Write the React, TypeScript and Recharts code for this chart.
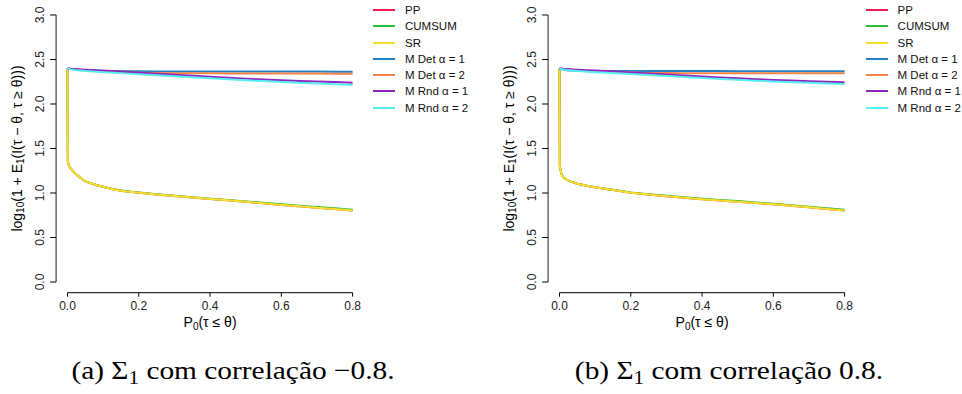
import { LineChart, Line, XAxis, YAxis, ReferenceLine } from "recharts";

// P0(tau <= theta) grid shared by all curves
const probGrid = [0, 0.001, 0.005, 0.01, 0.02, 0.03, 0.05, 0.08, 0.1, 0.13, 0.16, 0.2, 0.25, 0.3, 0.35, 0.4, 0.45, 0.5, 0.55, 0.6, 0.65, 0.7, 0.75, 0.8];

const xTicks = [0, 0.2, 0.4, 0.6, 0.8];
const yTicks = [0, 0.5, 1, 1.5, 2, 2.5, 3];

// (a) correlation -0.8
const aPP = [2.4, 1.35, 1.3, 1.27, 1.225, 1.19, 1.13, 1.09, 1.07, 1.04, 1.02, 1.003, 0.984, 0.966, 0.949, 0.932, 0.918, 0.901, 0.884, 0.866, 0.85, 0.835, 0.819, 0.803];
const aCUSUM = [2.4, 1.35, 1.3, 1.27, 1.225, 1.19, 1.13, 1.09, 1.07, 1.042, 1.022, 1.005, 0.987, 0.969, 0.952, 0.936, 0.922, 0.906, 0.89, 0.873, 0.858, 0.843, 0.828, 0.813];
const aSR = [2.4, 1.35, 1.3, 1.27, 1.225, 1.19, 1.13, 1.09, 1.07, 1.04, 1.02, 1.003, 0.984, 0.966, 0.949, 0.932, 0.918, 0.901, 0.884, 0.866, 0.85, 0.835, 0.819, 0.804];
const aDet1 = [2.4, 2.399, 2.396, 2.393, 2.389, 2.385, 2.38, 2.375, 2.372, 2.37, 2.368, 2.367, 2.366, 2.366, 2.365, 2.365, 2.365, 2.364, 2.364, 2.364, 2.364, 2.364, 2.363, 2.363];
const aDet2 = [2.4, 2.399, 2.396, 2.393, 2.389, 2.385, 2.378, 2.37, 2.365, 2.36, 2.355, 2.35, 2.347, 2.345, 2.344, 2.344, 2.343, 2.343, 2.343, 2.342, 2.342, 2.342, 2.341, 2.341];
const aRnd1 = [2.4, 2.4, 2.399, 2.397, 2.394, 2.391, 2.386, 2.38, 2.375, 2.369, 2.361, 2.351, 2.34, 2.328, 2.316, 2.305, 2.295, 2.285, 2.275, 2.266, 2.259, 2.252, 2.246, 2.24];
const aRnd2 = [2.4, 2.398, 2.394, 2.389, 2.383, 2.378, 2.371, 2.362, 2.356, 2.35, 2.344, 2.335, 2.324, 2.312, 2.3, 2.288, 2.277, 2.267, 2.257, 2.248, 2.239, 2.23, 2.221, 2.213];

// (b) correlation 0.8
const bPP = [2.4, 1.3, 1.22, 1.18, 1.15, 1.13, 1.105, 1.078, 1.064, 1.045, 1.028, 1.004, 0.984, 0.964, 0.947, 0.931, 0.917, 0.903, 0.888, 0.873, 0.856, 0.839, 0.821, 0.803];
const bCUSUM = [2.4, 1.3, 1.22, 1.18, 1.15, 1.13, 1.105, 1.078, 1.065, 1.047, 1.03, 1.007, 0.987, 0.968, 0.951, 0.936, 0.922, 0.909, 0.894, 0.879, 0.863, 0.846, 0.829, 0.811];
const bSR = [2.4, 1.3, 1.22, 1.18, 1.15, 1.13, 1.105, 1.078, 1.064, 1.045, 1.028, 1.004, 0.984, 0.964, 0.947, 0.931, 0.917, 0.903, 0.888, 0.873, 0.856, 0.839, 0.821, 0.804];
const bDet1 = [2.4, 2.398, 2.392, 2.386, 2.38, 2.377, 2.373, 2.371, 2.371, 2.37, 2.37, 2.37, 2.37, 2.37, 2.37, 2.37, 2.37, 2.369, 2.369, 2.369, 2.369, 2.369, 2.369, 2.369];
const bDet2 = [2.4, 2.399, 2.396, 2.393, 2.389, 2.385, 2.379, 2.372, 2.368, 2.363, 2.358, 2.353, 2.349, 2.347, 2.346, 2.346, 2.345, 2.345, 2.345, 2.345, 2.345, 2.345, 2.345, 2.345];
const bRnd1 = [2.4, 2.4, 2.399, 2.397, 2.394, 2.391, 2.386, 2.38, 2.376, 2.37, 2.363, 2.353, 2.342, 2.331, 2.32, 2.308, 2.298, 2.288, 2.279, 2.27, 2.263, 2.256, 2.25, 2.245];
const bRnd2 = [2.4, 2.398, 2.394, 2.389, 2.383, 2.378, 2.371, 2.363, 2.358, 2.352, 2.346, 2.337, 2.326, 2.315, 2.304, 2.292, 2.281, 2.271, 2.262, 2.253, 2.245, 2.238, 2.231, 2.225];

const seriesInfo = [
  { key: "pp", name: "PP", color: "#EE1B4E" },
  { key: "cusum", name: "CUMSUM", color: "#2DBD3A" },
  { key: "sr", name: "SR", color: "#FBDD2A" },
  { key: "det1", name: "M Det \u03B1 = 1", color: "#2280C6" },
  { key: "det2", name: "M Det \u03B1 = 2", color: "#F4844A" },
  { key: "rnd1", name: "M Rnd \u03B1 = 1", color: "#8C27BE" },
  { key: "rnd2", name: "M Rnd \u03B1 = 2", color: "#58EEF0" },
];

const buildRows = (cols: number[][]) =>
  probGrid.map((p, i) => ({
    p,
    pp: cols[0][i],
    cusum: cols[1][i],
    sr: cols[2][i],
    det1: cols[3][i],
    det2: cols[4][i],
    rnd1: cols[5][i],
    rnd2: cols[6][i],
  }));

const dataA = buildRows([aPP, aCUSUM, aSR, aDet1, aDet2, aRnd1, aRnd2]);
const dataB = buildRows([bPP, bCUSUM, bSR, bDet1, bDet2, bRnd1, bRnd2]);

const X_MIN = -0.032;
const X_MAX = 0.832;
const Y_MIN = -0.12;
const Y_MAX = 3.12;
const FONT = "'Liberation Sans', Arial, Helvetica, sans-serif";

const YTick = (props: any) => {
  const { x, y, payload } = props;
  const cx = x - 8;
  return (
    <text x={cx} y={y} transform={`rotate(-90 ${cx} ${y})`} textAnchor="middle" dominantBaseline="central" fontSize={12} fill="#222" fontFamily={FONT}>
      {Number(payload.value).toFixed(1)}
    </text>
  );
};

const YTitle = (props: any) => {
  const vb = props.viewBox;
  const cx = vb.x + 17;
  const cy = vb.y + vb.height / 2;
  return (
    <text x={cx} y={cy} transform={`rotate(-90 ${cx} ${cy})`} textAnchor="middle" dominantBaseline="central" fontSize={14} fill="#000" fontFamily={FONT}>
      <tspan>log</tspan>
      <tspan fontSize={10} dy={3}>10</tspan>
      <tspan dy={-3}>(1 + E</tspan>
      <tspan fontSize={10} dy={3}>1</tspan>
      <tspan dy={-3}>(I(τ − θ, τ ≥ θ)))</tspan>
    </text>
  );
};

const XTitle = (props: any) => {
  const vb = props.viewBox;
  return (
    <text x={vb.x + vb.width / 2} y={vb.y + 34} textAnchor="middle" fontSize={14} fill="#000" fontFamily={FONT}>
      <tspan>P</tspan>
      <tspan fontSize={10} dy={3}>0</tspan>
      <tspan dy={-3}>(τ ≤ θ)</tspan>
    </text>
  );
};

const LegendBox = ({ left }: { left: number }) => (
  <div style={{ position: "absolute", left, top: 1.8, fontFamily: FONT, fontSize: 11.5, color: "#111" }}>
    {seriesInfo.map((s) => (
      <div key={s.key} style={{ display: "flex", alignItems: "center", height: 16.3 }}>
        <span style={{ display: "inline-block", width: 22, height: 2, background: s.color }} />
        <span style={{ marginLeft: 10, whiteSpace: "nowrap" }}>{s.name}</span>
      </div>
    ))}
  </div>
);

function Panel({ data }: { data: any[] }) {
  return (
    <LineChart width={470} height={340} data={data} margin={{ top: 4.3, right: 106, bottom: 0.3, left: 0.1 }}>
      <XAxis
        type="number"
        dataKey="p"
        domain={[X_MIN, X_MAX]}
        ticks={xTicks}
        allowDataOverflow
        axisLine={false}
        tickLine={{ stroke: "#000" }}
        tickSize={4}
        tickMargin={5}
        height={47}
        tick={{ fill: "#222", fontSize: 12, fontFamily: FONT }}
        tickFormatter={(v: number) => v.toFixed(1)}
        label={{ content: XTitle }}
      />
      <YAxis
        type="number"
        domain={[Y_MIN, Y_MAX]}
        ticks={yTicks}
        allowDataOverflow
        axisLine={false}
        tickLine={{ stroke: "#000" }}
        tickSize={6}
        tickMargin={2}
        width={56}
        tick={<YTick />}
        label={{ content: YTitle }}
      />
      <ReferenceLine segment={[{ x: X_MIN, y: 0 }, { x: X_MIN, y: 3 }]} stroke="#444" strokeWidth={1.2} ifOverflow="visible" />
      <ReferenceLine segment={[{ x: 0, y: Y_MIN }, { x: 0.8, y: Y_MIN }]} stroke="#000" strokeWidth={1} ifOverflow="visible" />
      {seriesInfo.map((s) => (
        <Line
          key={s.key}
          type="linear"
          dataKey={s.key}
          name={s.name}
          stroke={s.color}
          strokeWidth={2}
          dot={false}
          activeDot={false}
          isAnimationActive={false}
        />
      ))}
    </LineChart>
  );
}

const captionStyle: React.CSSProperties = {
  position: "absolute",
  top: 356,
  fontFamily: "'Liberation Serif', 'Times New Roman', serif",
  fontSize: 26,
  lineHeight: "30px",
  color: "#000",
  whiteSpace: "nowrap",
  transform: "translateX(-50%) scaleX(1.13)",
};

export default function App() {
  return (
    <div style={{ position: "absolute", left: 0, top: 0, width: 962, height: 394, background: "#fff", overflow: "hidden" }}>
      <div style={{ position: "absolute", left: 0, top: 0 }}>
        <Panel data={dataA} />
      </div>
      <div style={{ position: "absolute", left: 491.6, top: 0 }}>
        <Panel data={dataB} />
      </div>
      <LegendBox left={373} />
      <LegendBox left={865.6} />
      <div style={{ ...captionStyle, left: 233 }}>
        (a) Σ<span style={{ fontSize: "0.72em", verticalAlign: "-0.25em" }}>1</span> com correlação −0.8.
      </div>
      <div style={{ ...captionStyle, left: 729 }}>
        (b) Σ<span style={{ fontSize: "0.72em", verticalAlign: "-0.25em" }}>1</span> com correlação 0.8.
      </div>
    </div>
  );
}
